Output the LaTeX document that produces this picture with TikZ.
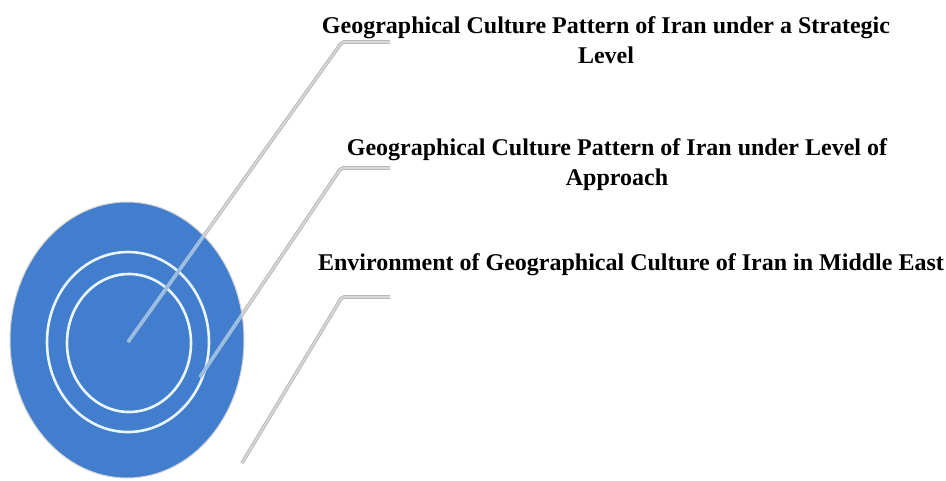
\documentclass[tikz,border=0pt]{standalone}
\usepackage{fontspec}
\setmainfont{Liberation Serif}
\definecolor{azul}{RGB}{66,126,205}
\definecolor{azulclaro}{RGB}{150,190,232}
\definecolor{anillo}{RGB}{232,246,250}

\begin{document}
\begin{tikzpicture}[x=1pt,y=-1pt,
	etiqueta/.style={font=\bfseries\fontsize{24}{30}\selectfont, align=center,
		inner sep=0pt, anchor=base},
	guia/.style={line width=3.6pt, draw=gray!55, rounded corners=2pt},
	guiafina/.style={line width=1.6pt, draw=gray!30, rounded corners=2pt},
	aro/.style={draw=anillo, line width=2.6pt}]
	\useasboundingbox (0,0) rectangle (946,480);

	% Dibujar la elipse y los anillos
	\coordinate (centro) at (127,340);
	\filldraw[fill=azul, draw=gray!35, line width=1pt] (centro) ellipse [x radius=117, y radius=138];
	\draw[aro] (128,342) ellipse [x radius=81, y radius=90];
	\draw[aro] (129,343) ellipse [x radius=62, y radius=69];

	% Dibujar las etiquetas
	\node[etiqueta] (estrategico) at (606,63) {Geographical Culture Pattern of Iran under a Strategic\\Level};
	\node[etiqueta] (enfoque) at (617,185) {Geographical Culture Pattern of Iran under Level of\\Approach};
	\node[etiqueta] (entorno) at (631,270) {Environment of Geographical Culture of Iran in Middle East};

	% Puntos de las lineas guia
	\coordinate (a1) at (128,342);
	\coordinate (b1) at (342,42);
	\coordinate (c1) at (390,42);
	\coordinate (a2) at (200,377);
	\coordinate (b2) at (341,168);
	\coordinate (c2) at (390,168);
	\coordinate (a3) at (242,463);
	\coordinate (b3) at (342,297);
	\coordinate (c3) at (390,297);

	% Dibujar las lineas guia
	\foreach \i in {1,2,3}{
		\draw[guia] (a\i) -- (b\i) -- (c\i);
		\draw[guiafina] (a\i) -- (b\i) -- (c\i);
	}
	\begin{scope}
		\clip (centro) ellipse [x radius=116, y radius=137];
		\draw[line width=3pt, azulclaro] (a1) -- (b1);
		\draw[line width=3pt, azulclaro] (a2) -- (b2);
	\end{scope}
\end{tikzpicture}
\end{document}
